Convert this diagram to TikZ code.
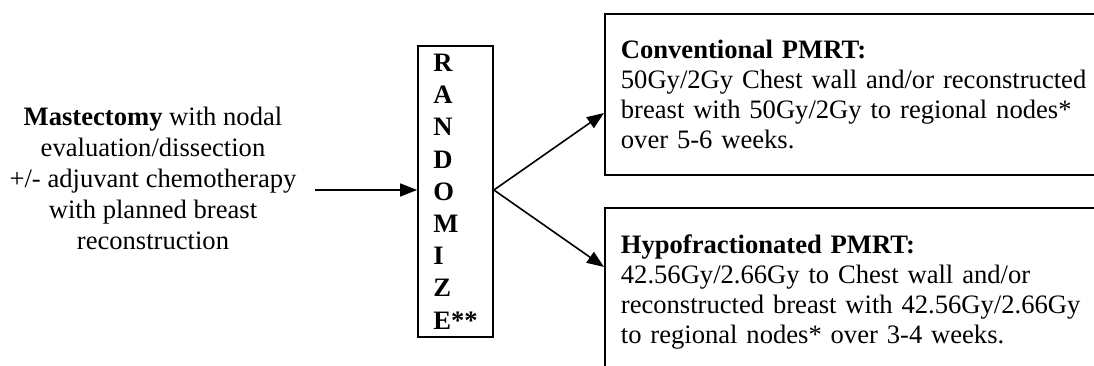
\documentclass[tikz,border=0pt]{standalone}
\usepackage{fontspec}
\setmainfont{Liberation Serif}
\usetikzlibrary{arrows.meta}
\begin{document}
\begin{tikzpicture}[x=0.5pt,y=-0.5pt,
  txt/.style={font=\fontsize{13.3}{15.5}\selectfont, inner sep=0pt},
  armbox/.style={draw, line width=0.9pt, anchor=north west, align=left,
    text width=239.5pt, inner xsep=8pt, inner ysep=0pt,
    font=\fontsize{13.3}{15}\selectfont},
  arr/.style={-{Triangle[length=8.5pt,width=6.5pt]}, line width=0.8pt}]
\useasboundingbox (0,0) rectangle (1094,365);
\clip (0,0) rectangle (1094,365);
\node[txt, align=center] (src) at (153,178)
  {\textbf{Mastectomy} with nodal\\evaluation/dissection\\+/- adjuvant chemotherapy\\with planned breast\\reconstruction};
\node[draw, line width=0.9pt, minimum width=37.5pt, minimum height=145.5pt,
  inner sep=0pt, align=left, font=\bfseries\fontsize{13.3}{16.1}\selectfont]
  (rand) at (455.5,191.5) {R\\A\\N\\D\\O\\M\\I\\Z\\E**};
\node[armbox, minimum height=80.5pt] (conv) at (604,13)
  {\textbf{Conventional PMRT:}\\50Gy/2Gy Chest wall and/or reconstructed\\breast with 50Gy/2Gy to regional nodes*\\over 5-6 weeks.};
\node[armbox, minimum height=84pt] (hypo) at (604,207)
  {\textbf{Hypofractionated PMRT:}\\42.56Gy/2.66Gy to Chest wall and/or\\reconstructed breast with 42.56Gy/2.66Gy\\to regional nodes* over 3-4 weeks.};
\coordinate (in) at (315,190);
\coordinate (u) at (0,113);
\coordinate (l) at (0,267);
\draw[arr] (in) -- (rand.west |- in);
\draw[arr] (rand.east |- in) -- (conv.west |- u);
\draw[arr] (rand.east |- in) -- (hypo.west |- l);
\end{tikzpicture}
\end{document}
